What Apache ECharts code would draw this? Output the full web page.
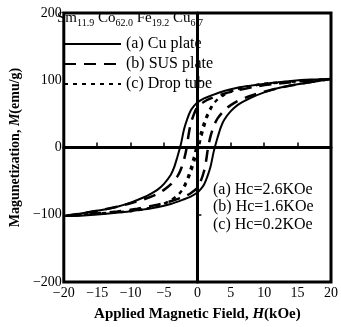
<!DOCTYPE html>
<html>
<head>
<meta charset="utf-8">
<script src="https://cdn.jsdelivr.net/npm/echarts@6/dist/echarts.min.js"></script>
<style>
  html, body { margin: 0; padding: 0; background: #fff; }
  #chart { width: 341px; height: 327px; }
</style>
</head>
<body>
<div id="chart"></div>
<script>
// applied field H (kOe) and magnetization M (emu/g)
// each loop: field sweeping down from +20, then back up from -20
const cuDownH = [20, 17, 14, 11, 8, 6, 4, 2, 1, 0, -0.5, -1, -1.5, -2, -2.4, -2.6, -3, -3.5, -4, -5, -6, -7, -8, -10, -12, -15, -20];
const cuDownM = [102, 101, 99, 96, 92, 89, 84, 77, 73, 67, 62, 55, 43, 27, 8, 0, -14, -30, -41, -54, -63, -69, -74, -82, -88, -94, -102];
const cuUpH = [-20, -17, -14, -11, -8, -6, -4, -2, -1, 0, 0.5, 1, 1.5, 2, 2.4, 2.6, 3, 3.5, 4, 5, 6, 7, 8, 10, 12, 15, 20];
const cuUpM = [-102, -101, -99, -96, -92, -89, -84, -77, -73, -67, -62, -55, -43, -27, -8, 0, 14, 30, 41, 54, 63, 69, 74, 82, 88, 94, 102];

const susDownH = [20, 16, 12, 9, 6, 4, 2, 1, 0, -0.5, -1, -1.3, -1.6, -2, -2.5, -3, -4, -5, -6, -8, -10, -12, -15, -20];
const susDownM = [102, 99, 95, 91, 85, 80, 73, 68, 60, 50, 35, 20, 0, -18, -33, -43, -55, -63, -69, -77, -83, -88, -94, -102];
const susUpH = [-20, -16, -12, -9, -6, -4, -2, -1, 0, 0.5, 1, 1.3, 1.6, 2, 2.5, 3, 4, 5, 6, 8, 10, 12, 15, 20];
const susUpM = [-102, -99, -95, -91, -85, -80, -73, -68, -60, -50, -35, -20, 0, 18, 33, 43, 55, 63, 69, 77, 83, 88, 94, 102];

const dropDownH = [20, 15, 10, 7, 5, 4, 3, 2, 1, 0.5, 0, -0.2, -0.5, -1, -1.6, -2.4, -3, -4, -5, -7, -10, -15, -20];
const dropDownM = [102, 99, 95, 90, 84, 79, 72, 60, 38, 22, 7, 0, -12, -30, -48, -64, -71, -78, -83, -89, -94, -98, -102];
const dropUpH = [-20, -15, -10, -7, -5, -4, -3, -2, -1, -0.5, 0, 0.2, 0.5, 1, 1.6, 2.4, 3, 4, 5, 7, 10, 15, 20];
const dropUpM = [-102, -99, -95, -90, -84, -79, -72, -60, -38, -22, -7, 0, 12, 30, 48, 64, 71, 78, 83, 89, 94, 98, 102];

const seriesNames = ['(a) Cu plate', '(b) SUS plate', '(c) Drop tube'];
const coercivity = ['(a) Hc=2.6KOe', '(b) Hc=1.6KOe', '(c) Hc=0.2KOe'];

const serif = '"Liberation Serif", "DejaVu Serif", serif';

function loop(h1, m1, h2, m2) {
  const pts = h1.map((h, i) => [h, m1[i]]);
  return pts.concat(h2.map((h, i) => [h, m2[i]]));
}

const minus = v => String(v).replace('-', '\u2212');

const chart = echarts.init(document.getElementById('chart'));

const lineStyles = [
  { color: '#000', width: 2, type: 'solid' },
  { color: '#000', width: 2.5, type: [12, 8] },
  { color: '#000', width: 2, type: [4, 5] }
];

const loops = [
  loop(cuDownH, cuDownM, cuUpH, cuUpM),
  loop(susDownH, susDownM, susUpH, susUpM),
  loop(dropDownH, dropDownM, dropUpH, dropUpM)
];

const option = {
  animation: false,
  backgroundColor: '#fff',
  grid: {
    left: 54, right: 7, top: 13, bottom: 36,
    show: true, borderColor: '#000', borderWidth: 3
  },
  xAxis: {
    type: 'value', min: -20, max: 20, interval: 5,
    axisLine: { lineStyle: { color: '#000', width: 3 } },
    axisTick: { inside: true, length: 5, lineStyle: { color: '#000', width: 1.5 } },
    splitLine: { show: false },
    axisLabel: { color: '#000', fontFamily: serif, fontSize: 14, margin: 4, formatter: minus },
    name: '{b|Applied Magnetic Field, }{i|H}{b|(kOe)}',
    nameLocation: 'middle', nameGap: 25,
    nameTextStyle: {
      rich: {
        b: { fontFamily: serif, fontSize: 15, fontWeight: 'bold', color: '#000' },
        i: { fontFamily: serif, fontSize: 15, fontWeight: 'bold', fontStyle: 'italic', color: '#000' }
      }
    }
  },
  yAxis: {
    type: 'value', min: -200, max: 200, interval: 100,
    axisLine: { lineStyle: { color: '#000', width: 3 } },
    axisTick: { inside: true, length: 4, lineStyle: { color: '#000', width: 1.5 } },
    splitLine: { show: false },
    axisLabel: { color: '#000', fontFamily: serif, fontSize: 14, margin: 2, formatter: minus },
    name: '{b|Magunetization, }{i|M}{b|(emu/g)}',
    nameLocation: 'middle', nameGap: 40, nameRotate: 90,
    nameTextStyle: {
      rich: {
        b: { fontFamily: serif, fontSize: 14, fontWeight: 'bold', color: '#000' },
        i: { fontFamily: serif, fontSize: 14, fontWeight: 'bold', fontStyle: 'italic', color: '#000' }
      }
    }
  },
  legend: {
    orient: 'vertical', left: 63, top: 36, padding: 0,
    itemWidth: 57, itemHeight: 14, itemGap: 4,
    itemStyle: { opacity: 0 },
    textStyle: { color: '#000', fontFamily: serif, fontSize: 16 },
    data: seriesNames
  },
  graphic: [
    {
      type: 'text', left: 57, top: 11,
      style: {
        text: '{n|Sm}{s|11.9}{n| Co}{s|62.0}{n| Fe}{s|19.2}{n| Cu}{s|6.7}',
        rich: {
          n: { fontFamily: serif, fontSize: 15, color: '#000', lineHeight: 16, verticalAlign: 'middle' },
          s: { fontFamily: serif, fontSize: 10, color: '#000', lineHeight: 20, verticalAlign: 'bottom' }
        }
      }
    },
    {
      type: 'text', left: 213, top: 181,
      style: {
        text: coercivity.join('\n'),
        fontFamily: serif, fontSize: 16, lineHeight: 17.5, fill: '#000'
      }
    }
  ],
  series: seriesNames.map((name, k) => ({
    name: name,
    type: 'line',
    data: loops[k],
    symbol: 'none',
    smooth: 0.3,
    lineStyle: lineStyles[k],
    itemStyle: { color: '#000' },
    markLine: k === 0 ? {
      silent: true,
      symbol: ['none', 'none'],
      label: { show: false },
      lineStyle: { color: '#000', width: 1.5, type: 'solid' },
      data: [{ xAxis: 0 }, { yAxis: 0 }]
    } : undefined
  }))
};

chart.setOption(option);
</script>
</body>
</html>
